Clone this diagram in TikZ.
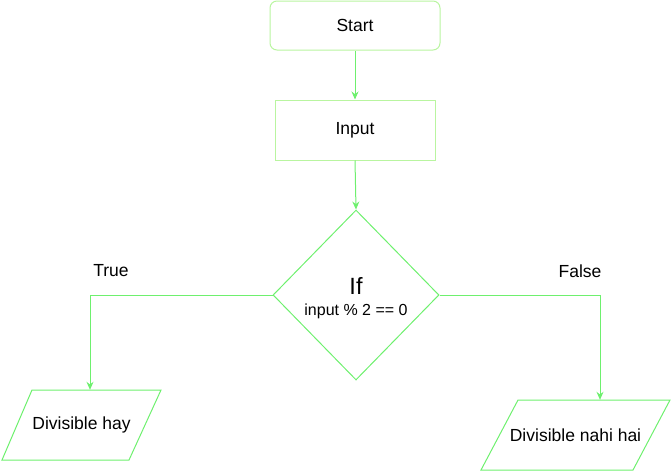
\documentclass[tikz,border=0pt]{standalone}
\usepackage{fontspec}
\setmainfont{Liberation Sans}
\usetikzlibrary{shapes.geometric,arrows.meta}
\definecolor{palegreen}{RGB}{185,245,160}
\definecolor{flowgreen}{RGB}{110,240,110}
\begin{document}
\begin{tikzpicture}[x=1pt,y=-1pt,
  txt/.style={font=\fontsize{17.5}{20}\selectfont, text=black},
  terminal/.style={draw=palegreen, line width=1pt, rounded corners=7pt, minimum width=170pt, minimum height=49pt, inner sep=0pt, txt},
  process/.style={draw=palegreen, line width=1pt, minimum width=160pt, minimum height=60pt, inner sep=0pt, txt},
  decision/.style={draw=flowgreen, line width=1pt, diamond, minimum width=166pt, minimum height=170pt, inner sep=0pt},
  iobox/.style={minimum width=129pt, minimum height=70pt, inner sep=0pt, txt},
  ioframe/.style={draw=flowgreen, line width=1pt},
  flow/.style={draw=flowgreen, line width=1pt, -{Stealth[length=8pt,width=7pt]}}
]
\useasboundingbox (0,0) rectangle (671,471);

\node[terminal] (start) at (355,25.5) {Start};
\node[process] (input) at (355,130) {Input};
\node[decision] (cond) at (356,295) {};
\node[font=\fontsize{23.5}{26}\selectfont] (iflabel) at (356,286) {If};
\node[font=\fontsize{16}{18}\selectfont] (condtext) at (356,311) {input \% 2 == 0};

% input/output parallelograms: text node plus slanted frame
\node[iobox] (yes) at (81.5,425) {Divisible hay};
\draw[ioframe] (32,390) -- (161,390) -- (129,460) -- (2,460) -- cycle;
\node[iobox] (no) at (575.5,435) {Divisible nahi hai};
\draw[ioframe] (518,400) -- (670,400) -- (633,470) -- (481,470) -- cycle;

\node[txt] (truelabel) at (111,271) {True};
\node[txt] (falselabel) at (580,271) {False};

\draw[flow] (start) -- (input);
\draw[flow] (input.south) -- (cond.north);
\draw[flow] (cond.west) -| (yes.north -| 90,0);
\draw[flow] (cond.east) -| (no.north -| 600,0);
\end{tikzpicture}
\end{document}
